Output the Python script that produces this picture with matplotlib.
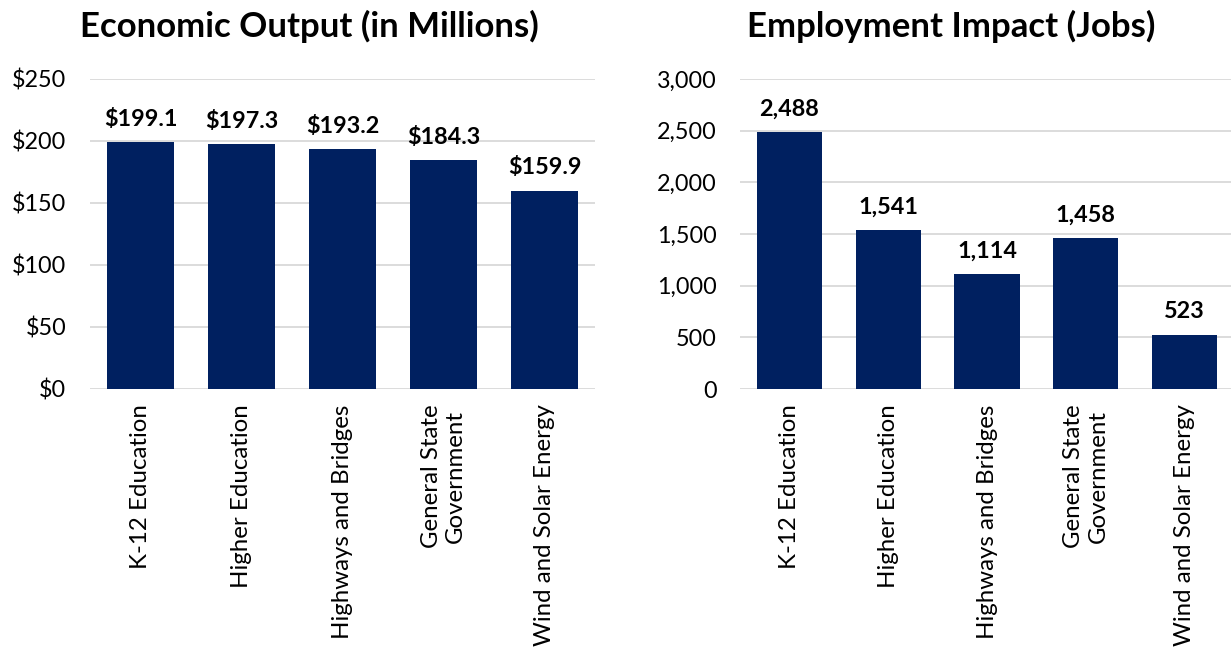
import matplotlib
matplotlib.use("Agg")
import matplotlib.pyplot as plt
from matplotlib.ticker import FuncFormatter

# data
categories = ["K-12 Education", "Higher Education", "Highways and Bridges",
              "General State\nGovernment", "Wind and Solar Energy"]
output_millions = [199.1, 197.3, 193.2, 184.3, 159.9]
jobs = [2488, 1541, 1114, 1458, 523]

bar_color = "#002060"
grid_color = "#d9d9d9"

plt.rcParams["font.family"] = ["Lato", "DejaVu Sans"]

fig = plt.figure(figsize=(12.31, 6.51), dpi=100)
ax1 = fig.add_axes([90/1231, 262/651, 505/1231, 310/651])
ax2 = fig.add_axes([740/1231, 262/651, 494/1231, 310/651])


def style_axis(ax):
    for s in ax.spines.values():
        s.set_visible(False)
    ax.yaxis.grid(True, color=grid_color, lw=1.3)
    ax.set_axisbelow(True)
    ax.tick_params(axis="both", length=0, labelsize=16.8, colors="black")
    ax.tick_params(axis="x", labelsize=17.3)
    ax.tick_params(axis="y", pad=17)
    ax.tick_params(axis="x", pad=11)


x = list(range(len(categories)))

# --- economic output
ax1.bar(x, output_millions, width=0.66, color=bar_color)
style_axis(ax1)
ax1.set_ylim(0, 250)
ax1.set_yticks([0, 50, 100, 150, 200, 250])
ax1.yaxis.set_major_formatter(FuncFormatter(lambda v, p: "${:,.0f}".format(v)))
ax1.set_xlim(-0.5, len(categories) - 0.5)
ax1.set_xticks(x)
ax1.set_xticklabels(categories, rotation=90, ha="center", va="top",
                    multialignment="center")
for xi, v in zip(x, output_millions):
    ax1.annotate("${:.1f}".format(v), (xi, v), xytext=(0, 9),
                 textcoords="offset points", ha="center", va="bottom",
                 fontsize=16.8, fontweight="bold")
fig.text(309/1231, 1 - 26/651, "Economic Output (in Millions)", ha="center",
         va="center", fontsize=25, fontweight="bold")

# --- employment
ax2.bar(x, jobs, width=0.66, color=bar_color)
style_axis(ax2)
ax2.set_ylim(0, 3000)
ax2.set_yticks([0, 500, 1000, 1500, 2000, 2500, 3000])
ax2.yaxis.set_major_formatter(FuncFormatter(lambda v, p: "{:,.0f}".format(v)))
ax2.set_xlim(-0.5, len(categories) - 0.5)
ax2.set_xticks(x)
ax2.set_xticklabels(categories, rotation=90, ha="center", va="top",
                    multialignment="center")
for xi, v in zip(x, jobs):
    ax2.annotate("{:,}".format(v), (xi, v), xytext=(0, 9),
                 textcoords="offset points", ha="center", va="bottom",
                 fontsize=16.8, fontweight="bold")
fig.text(951/1231, 1 - 26/651, "Employment Impact (Jobs)", ha="center",
         va="center", fontsize=25, fontweight="bold")

fig.savefig("out.png", dpi=100)
